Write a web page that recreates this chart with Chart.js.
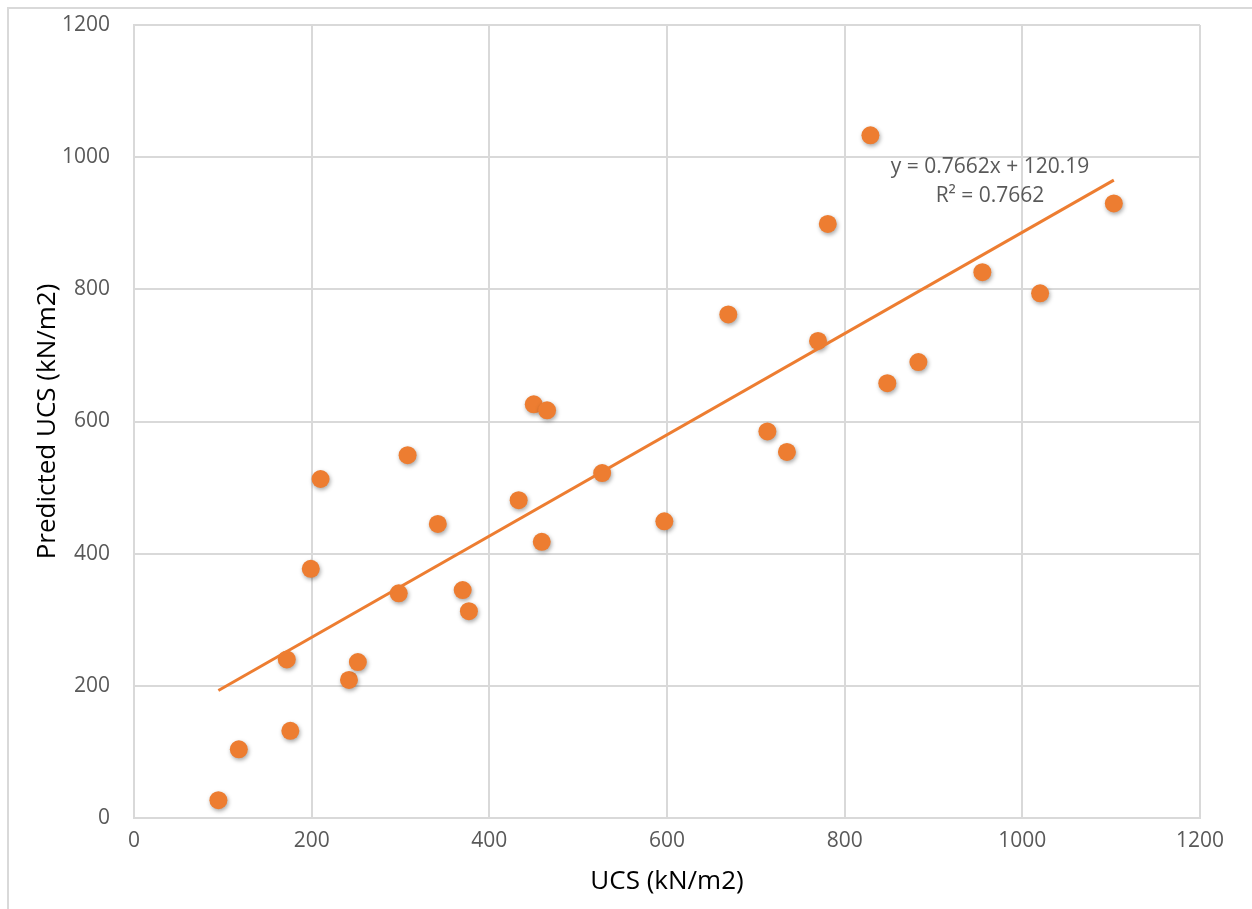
<!DOCTYPE html>
<html>
<head>
<meta charset="utf-8">
<script src="https://cdn.jsdelivr.net/npm/chart.js@4"></script>
<style>
  html, body { margin: 0; padding: 0; background: #fff; }
  #wrap { position: relative; width: 1252px; height: 909px; }
  #frame { position: absolute; left: 7px; top: 7px; width: 1300px; height: 1000px;
           border-left: 2px solid #d9d9d9; border-top: 2px solid #d9d9d9; box-sizing: border-box; }
  canvas { position: absolute; left: 0; top: 0; }
</style>
</head>
<body>
<div id="wrap">
  <div id="frame"></div>
  <canvas id="grafico" width="1252" height="909"></canvas>
</div>
<script>
// valores
const ucs = [95, 118, 172, 176, 199, 210, 242, 252, 298, 308, 342, 370, 377, 433, 450, 459, 465,
             527, 597, 669, 713, 735, 770, 781, 829, 848, 883, 955, 1020, 1103];
const predicho = [27, 104, 240, 132, 377, 513, 209, 236, 340, 549, 445, 345, 313, 481, 626, 418, 617,
                  522, 449, 762, 585, 554, 722, 899, 1033, 658, 690, 826, 794, 930];
const pendiente = 0.7662;
const intercepto = 120.19;
const ecuacion = ["y = 0.7662x + 120.19", "R² = 0.7662"];
const ticksX = [0, 200, 400, 600, 800, 1000, 1200];
const ticksY = [0, 200, 400, 600, 800, 1000, 1200];

const puntos = ucs.map((x, i) => ({ x: x, y: predicho[i] }));
const xMin = Math.min(...ucs), xMax = Math.max(...ucs);
const tendencia = [
    { x: xMin, y: pendiente * xMin + intercepto },
    { x: xMax, y: pendiente * xMax + intercepto }
];

const fuente = "'Open Sans', 'Liberation Sans', sans-serif";
const naranja = "#ED7D31";

// sombra de los puntos
const sombra = {
    id: "sombra",
    beforeDatasetDraw(chart, args) {
        if (args.index === 1) {
            chart.ctx.save();
            chart.ctx.shadowColor = "rgba(0,0,0,0.35)";
            chart.ctx.shadowBlur = 4;
            chart.ctx.shadowOffsetX = 1;
            chart.ctx.shadowOffsetY = 2;
        }
    },
    afterDatasetDraw(chart, args) {
        if (args.index === 1) chart.ctx.restore();
    }
};

// etiqueta de la ecuacion
const etiqueta = {
    id: "etiqueta",
    afterDraw(chart) {
        const c = chart.ctx;
        const a = chart.chartArea;
        const cx = a.left + (a.right - a.left) * 0.803;
        const cy = a.top + (a.bottom - a.top) * 0.179;
        c.save();
        c.font = "21px " + fuente;
        c.fillStyle = "#595959";
        c.textAlign = "center";
        c.textBaseline = "middle";
        c.fillText(ecuacion[0], cx, cy);
        c.fillText(ecuacion[1], cx, cy + 29);
        c.restore();
    }
};

const ctx = document.getElementById("grafico").getContext("2d");
const grafico = new Chart(ctx, {
    type: "scatter",
    data: {
        datasets: [
            {
                label: "Tendencia",
                type: "line",
                data: tendencia,
                borderColor: naranja,
                borderWidth: 3,
                pointRadius: 0,
                fill: false
            },
            {
                label: "UCS",
                data: puntos,
                backgroundColor: naranja,
                borderColor: naranja,
                borderWidth: 0,
                pointRadius: 9
            }
        ]
    },
    options: {
        responsive: false,
        animation: false,
        layout: { padding: { left: 28, right: 52, top: 25, bottom: 8 } },
        plugins: { legend: { display: false }, tooltip: { enabled: false } },
        scales: {
            x: {
                type: "linear",
                min: 0, max: 1200,
                afterBuildTicks: s => { s.ticks = ticksX.map(v => ({ value: v })); },
                grid: { color: "#d9d9d9", lineWidth: 2, drawTicks: false },
                border: { color: "#d9d9d9", width: 2 },
                ticks: { color: "#595959", font: { family: fuente, size: 21 }, padding: 10, callback: v => String(v) },
                title: { display: true, text: "UCS (kN/m2)", color: "#000", font: { family: fuente, size: 26 }, padding: { top: 0 } },
                afterFit: s => { s.height = 909 - 818 - 8; s.paddingLeft = 0; s.paddingRight = 0; }
            },
            y: {
                type: "linear",
                min: 0, max: 1200,
                afterBuildTicks: s => { s.ticks = ticksY.map(v => ({ value: v })); },
                grid: { color: "#d9d9d9", lineWidth: 2, drawTicks: false },
                border: { color: "#d9d9d9", width: 2 },
                ticks: { color: "#595959", font: { family: fuente, size: 21 }, padding: 24, callback: v => String(v) },
                title: { display: true, text: "Predicted UCS (kN/m2)", color: "#000", font: { family: fuente, size: 26 }, padding: { bottom: 0 } },
                afterFit: s => { s.width = 134 - 28; s.paddingTop = 0; s.paddingBottom = 0; }
            }
        }
    },
    plugins: [sombra, etiqueta]
});
</script>
</body>
</html>
